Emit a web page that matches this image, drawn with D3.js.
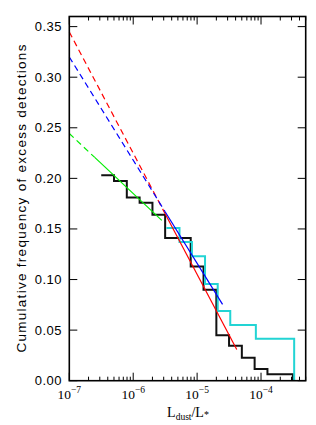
<!DOCTYPE html>
<html><head><meta charset="utf-8">
<script src="https://cdn.jsdelivr.net/npm/d3@7"></script>
<style>body{margin:0;background:#fff;} svg{display:block;}</style>
</head><body>
<svg id="c" width="316" height="425"></svg>
<script>
// ---- data ----
const blackEdges = [3.16e-7, 5.01e-7, 7.94e-7, 1.26e-6, 2.00e-6, 3.16e-6, 7.94e-6, 1.26e-5, 2.00e-5, 3.16e-5, 5.01e-5, 7.94e-5, 1.26e-4, 3.16e-4];
const blackValues = [0.203, 0.1975, 0.181, 0.176, 0.164, 0.141, 0.113, 0.090, 0.045, 0.0346, 0.0227, 0.0116, 0.0063];
const cyanEdges = [3.3e-6, 5.3e-6, 8.3e-6, 1.33e-5, 2.1e-5, 3.3e-5, 8.3e-5, 3.3e-4];
const cyanValues = [0.151, 0.137, 0.123, 0.0955, 0.069, 0.055, 0.0415];
// fit lines: value at 1e-7, slope per decade, solid-range start & end
const fitNames = ["red", "blue", "green"];
const fitAt1e7 = [0.3447, 0.320, 0.2443];
const fitSlope = [-0.1198, -0.102, -0.0593];
const fitSolidStart = [3.16e-6, 3.16e-6, 2.5e-7];
const fitSolidEnd = [4.17e-5, 2.5e-5, 2.8e-6];
const fitColors = ["#ff0000", "#0000ff", "#00ee00"];
const yTicks = [0, 0.05, 0.10, 0.15, 0.20, 0.25, 0.30, 0.35];
const xMajor = [1e-7, 1e-6, 1e-5, 1e-4];
const xMajorExp = ["−7", "−6", "−5", "−4"];

// ---- layout ----
const svg = d3.select("#c");
const L = 69.3, R = 305.7, T = 16.5, B = 380.7;
const x = d3.scaleLog().domain([1e-7, 5e-4]).range([L, R]);
const y = d3.scaleLinear().domain([0, 0.36]).range([B, T]);

// steps
function stepPath(edges, vals) {
  const pts = vals.map((v, i) => [edges[i], v]);
  pts.push([edges[edges.length - 1], 0]);
  return d3.line().x(d => x(d[0])).y(d => y(d[1])).curve(d3.curveStepAfter)(pts);
}
svg.append("path").attr("d", stepPath(blackEdges, blackValues))
  .attr("fill", "none").attr("stroke", "#111").attr("stroke-width", 2);
svg.append("path").attr("d", stepPath(cyanEdges, cyanValues))
  .attr("fill", "none").attr("stroke", "#22d4d4").attr("stroke-width", 2);

// fit lines
const fitLine = d3.line().x(d => x(d[0])).y(d => y(d[1]));
fitNames.forEach((n, i) => {
  const f = v => fitAt1e7[i] + fitSlope[i] * (Math.log10(v) + 7);
  const dashPts = [1e-7, fitSolidStart[i]].map(v => [v, f(v)]);
  const solidPts = [fitSolidStart[i], fitSolidEnd[i]].map(v => [v, f(v)]);
  svg.append("path").attr("d", fitLine(dashPts)).attr("fill", "none")
    .attr("stroke", fitColors[i]).attr("stroke-width", 1.2).attr("stroke-dasharray", "6,4");
  svg.append("path").attr("d", fitLine(solidPts)).attr("fill", "none")
    .attr("stroke", fitColors[i]).attr("stroke-width", 1.2);
});

// frame
svg.append("rect").attr("x", L).attr("y", T).attr("width", R - L).attr("height", B - T)
  .attr("fill", "none").attr("stroke", "#000").attr("stroke-width", 1.6);

// x ticks
const xt = x.ticks().filter(v => v >= 1e-7 && v <= 5e-4);
xt.forEach(v => {
  const isMaj = xMajor.some(m => Math.abs(m - v) / m < 1e-6);
  const len = isMaj ? 8 : 4;
  svg.append("line").attr("x1", x(v)).attr("x2", x(v)).attr("y1", B).attr("y2", B - len)
    .attr("stroke", "#000").attr("stroke-width", 1);
  svg.append("line").attr("x1", x(v)).attr("x2", x(v)).attr("y1", T).attr("y2", T + len)
    .attr("stroke", "#000").attr("stroke-width", 1);
});
// y ticks
yTicks.forEach(v => {
  svg.append("line").attr("x1", L).attr("x2", L + 8).attr("y1", y(v)).attr("y2", y(v))
    .attr("stroke", "#000").attr("stroke-width", 1);
  svg.append("line").attr("x1", R).attr("x2", R - 8).attr("y1", y(v)).attr("y2", y(v))
    .attr("stroke", "#000").attr("stroke-width", 1);
  svg.append("text").attr("x", 62).attr("y", y(v) + 4.5).attr("text-anchor", "end")
    .attr("font-family", "Liberation Sans, Arial, sans-serif").attr("font-size", 13)
    .attr("letter-spacing", 0.5).text(d3.format(".2f")(v));
});
// x tick labels
xMajor.forEach((v, i) => {
  const t = svg.append("text").attr("x", x(v)).attr("y", 399).attr("text-anchor", "middle")
    .attr("font-family", "Liberation Serif, Times New Roman, serif").attr("font-size", 13.5);
  t.append("tspan").text("10");
  t.append("tspan").attr("dy", -6.5).attr("font-size", 9.5).text(xMajorExp[i]);
});
// axis labels
const xl = svg.append("text").attr("x", 188).attr("y", 416.5).attr("text-anchor", "middle")
  .attr("font-family", "Liberation Serif, Times New Roman, serif").attr("font-size", 14);
xl.append("tspan").text("L");
xl.append("tspan").attr("dy", 3).attr("font-size", 9.5).text("dust");
xl.append("tspan").attr("dy", -3).text("/L");
xl.append("tspan").attr("dy", 1.5).attr("font-size", 10).text("*");

svg.append("text").attr("transform", "translate(26," + ((T + B) / 2) + ") rotate(-90)")
  .attr("text-anchor", "middle").attr("font-family", "Liberation Sans, Arial, sans-serif")
  .attr("font-size", 13.5).attr("textLength", 308).attr("lengthAdjust", "spacing")
  .text("Cumulative frequency of excess detections");
</script>
</body></html>
